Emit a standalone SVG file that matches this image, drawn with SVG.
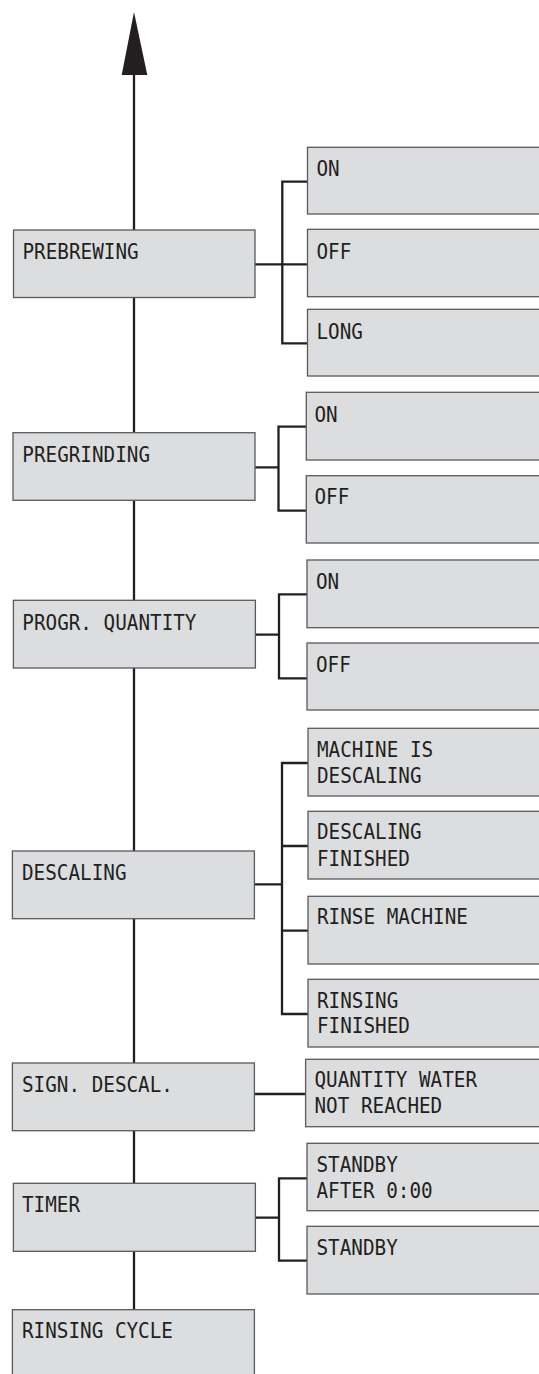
<svg xmlns="http://www.w3.org/2000/svg" width="539" height="1374" viewBox="0 0 539 1374">
  <style>
    .box { fill: #dcdddf; stroke: #5a5a5c; stroke-width: 1.3; }
    .lbl { font-family: "DejaVu Sans Mono", "Liberation Mono", monospace; font-size: 19.3px; fill: #231f20; }
    .wire { fill: none; stroke: #231f20; stroke-width: 2.3; stroke-linejoin: miter; stroke-linecap: square; }
  </style>
  <rect width="539" height="1374" fill="#ffffff"/>

  <!-- connectors -->
  <g id="connectors">
    <!-- main spine with upward arrow -->
    <path class="wire" d="M134 75 V1309"/>
    <polygon points="134,12 121.7,75 147.3,75" fill="#231f20"/>
    <!-- PREBREWING -->
    <path class="wire" d="M255 264.3 H307 M282.3 181.7 V343.3 M282.3 181.7 H307 M282.3 343.3 H307"/>
    <!-- PREGRINDING -->
    <path class="wire" d="M255 467.3 H278.5 M278.5 426.7 V510.7 M278.5 426.7 H306 M278.5 510.7 H306"/>
    <!-- PROGR. QUANTITY -->
    <path class="wire" d="M255 634.7 H279 M279 594.3 V678.3 M279 594.3 H307 M279 678.3 H307"/>
    <!-- DESCALING -->
    <path class="wire" d="M255 884.3 H282 M282 763 V1014 M282 763 H308 M282 846 H308 M282 930.7 H308 M282 1014 H308"/>
    <!-- SIGN. DESCAL. -->
    <path class="wire" d="M255 1094 H305.6"/>
    <!-- TIMER -->
    <path class="wire" d="M255 1217.7 H279 M279 1178.3 V1260.7 M279 1178.3 H307 M279 1260.7 H307"/>
  </g>

  <!-- menu entries; labels are stretched slightly upward from their baseline -->
  <g id="prebrewing">
    <rect class="box" x="13.5" y="230" width="241.5" height="67.5"/>
    <text class="lbl" transform="translate(22.5 259) scale(1 1.09)">PREBREWING</text>
  </g>
  <g id="prebrewing-on">
    <rect class="box" x="307.5" y="147.3" width="240" height="66.7"/>
    <text class="lbl" transform="translate(316.5 176) scale(1 1.09)">ON</text>
  </g>
  <g id="prebrewing-off">
    <rect class="box" x="307.5" y="229.3" width="240" height="67.4"/>
    <text class="lbl" transform="translate(316.5 259.3) scale(1 1.09)">OFF</text>
  </g>
  <g id="prebrewing-long">
    <rect class="box" x="307.5" y="309.3" width="240" height="66.7"/>
    <text class="lbl" transform="translate(316.5 339) scale(1 1.09)">LONG</text>
  </g>

  <g id="pregrinding">
    <rect class="box" x="13" y="432.7" width="242" height="67.6"/>
    <text class="lbl" transform="translate(22.3 461.7) scale(1 1.09)">PREGRINDING</text>
  </g>
  <g id="pregrinding-on">
    <rect class="box" x="306.3" y="392.3" width="240" height="67.7"/>
    <text class="lbl" transform="translate(314.5 421.7) scale(1 1.09)">ON</text>
  </g>
  <g id="pregrinding-off">
    <rect class="box" x="306.3" y="475.7" width="240" height="67.3"/>
    <text class="lbl" transform="translate(314.5 504) scale(1 1.09)">OFF</text>
  </g>

  <g id="progr-quantity">
    <rect class="box" x="13.4" y="600.3" width="242" height="67.7"/>
    <text class="lbl" transform="translate(22.3 630) scale(1 1.09)">PROGR. QUANTITY</text>
  </g>
  <g id="progr-quantity-on">
    <rect class="box" x="307" y="560" width="240" height="67.7"/>
    <text class="lbl" transform="translate(316 589.3) scale(1 1.09)">ON</text>
  </g>
  <g id="progr-quantity-off">
    <rect class="box" x="307" y="643" width="240" height="67"/>
    <text class="lbl" transform="translate(316 671.7) scale(1 1.09)">OFF</text>
  </g>

  <g id="descaling">
    <rect class="box" x="12.4" y="851" width="242" height="67.7"/>
    <text class="lbl" transform="translate(22 880) scale(1 1.09)">DESCALING</text>
  </g>
  <g id="descaling-running">
    <rect class="box" x="308" y="728.3" width="240" height="67.7"/>
    <text class="lbl" transform="translate(317 756.7) scale(1 1.09)">MACHINE IS</text>
    <text class="lbl" transform="translate(317 782.7) scale(1 1.09)">DESCALING</text>
  </g>
  <g id="descaling-finished">
    <rect class="box" x="308" y="811.3" width="240" height="67.7"/>
    <text class="lbl" transform="translate(317 839.3) scale(1 1.09)">DESCALING</text>
    <text class="lbl" transform="translate(317 865.7) scale(1 1.09)">FINISHED</text>
  </g>
  <g id="rinse-machine">
    <rect class="box" x="308" y="896.3" width="240" height="67.7"/>
    <text class="lbl" transform="translate(317 924.3) scale(1 1.09)">RINSE MACHINE</text>
  </g>
  <g id="rinsing-finished">
    <rect class="box" x="308" y="979.3" width="240" height="67.7"/>
    <text class="lbl" transform="translate(317 1008.3) scale(1 1.09)">RINSING</text>
    <text class="lbl" transform="translate(317 1033.3) scale(1 1.09)">FINISHED</text>
  </g>

  <g id="sign-descal">
    <rect class="box" x="12.4" y="1063" width="242" height="67.7"/>
    <text class="lbl" transform="translate(22 1091.7) scale(1 1.09)">SIGN. DESCAL.</text>
  </g>
  <g id="water-not-reached">
    <rect class="box" x="305.6" y="1059.3" width="240" height="67.4"/>
    <text class="lbl" transform="translate(314.5 1087.3) scale(1 1.09)">QUANTITY WATER</text>
    <text class="lbl" transform="translate(314.5 1112.7) scale(1 1.09)">NOT REACHED</text>
  </g>

  <g id="timer">
    <rect class="box" x="13.4" y="1183.3" width="242" height="68"/>
    <text class="lbl" transform="translate(22 1211.7) scale(1 1.09)">TIMER</text>
  </g>
  <g id="standby-after">
    <rect class="box" x="307" y="1143.3" width="240" height="67.4"/>
    <text class="lbl" transform="translate(316.5 1171.7) scale(1 1.09)">STANDBY</text>
    <text class="lbl" transform="translate(316.5 1197.7) scale(1 1.09)">AFTER 0:00</text>
  </g>
  <g id="standby">
    <rect class="box" x="307" y="1226.3" width="240" height="67.7"/>
    <text class="lbl" transform="translate(316.5 1255) scale(1 1.09)">STANDBY</text>
  </g>

  <g id="rinsing-cycle">
    <rect class="box" x="12.4" y="1309.7" width="242" height="80"/>
    <text class="lbl" transform="translate(22 1338.3) scale(1 1.09)">RINSING CYCLE</text>
  </g>
</svg>
